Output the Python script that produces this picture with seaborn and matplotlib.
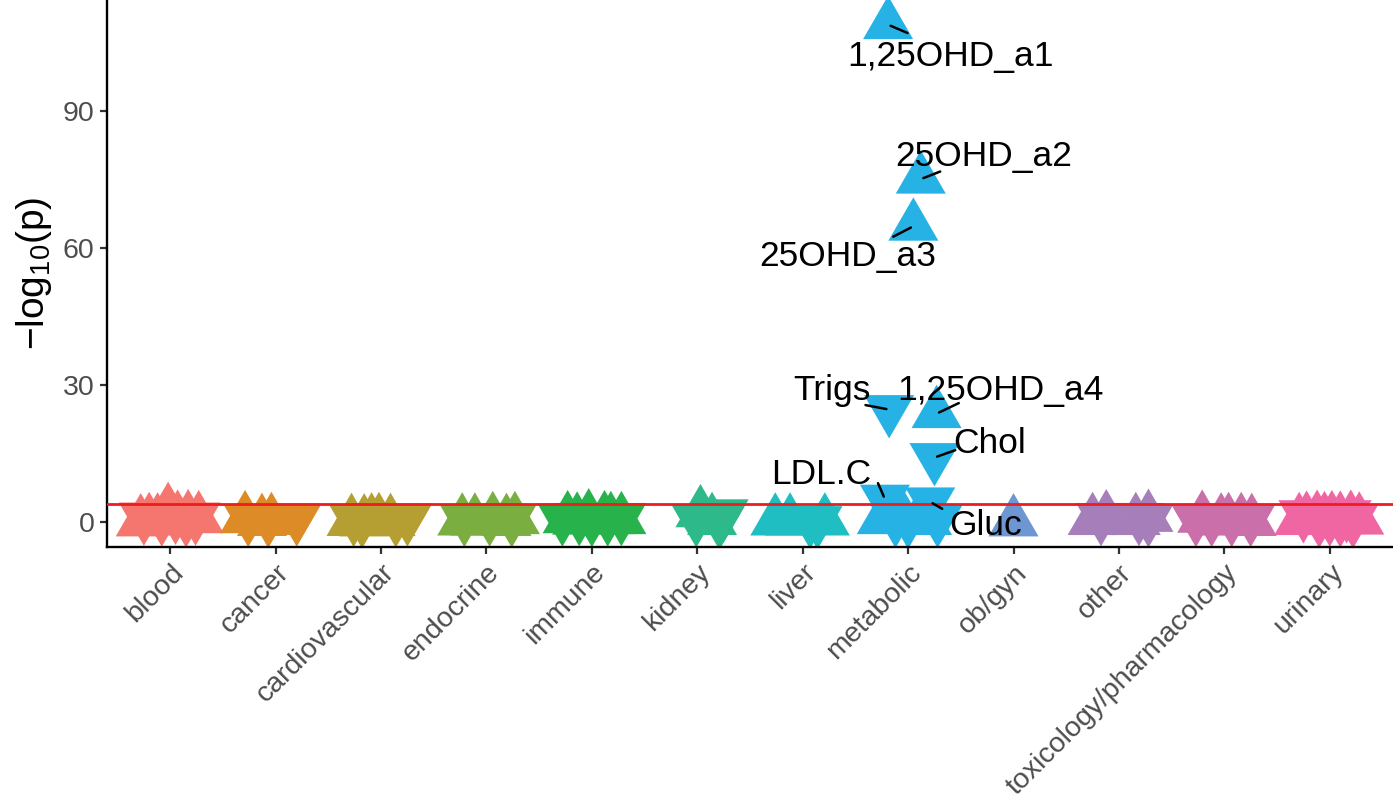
import pandas as pd
import matplotlib
matplotlib.use('Agg')
import matplotlib.pyplot as plt
import seaborn as sns

# Categories and colours
categories = ['blood', 'cancer', 'cardiovascular', 'endocrine', 'immune', 'kidney',
              'liver', 'metabolic', 'ob/gyn', 'other', 'toxicology/pharmacology', 'urinary']
colors = ['#F4766F', '#DD8B27', '#B59E32', '#7BAE41', '#27B24B', '#2EB98A',
          '#1EBEC3', '#27B2E6', '#6E96D2', '#A67FBA', '#CA6FAA', '#F066A3']

# Points per category: (direction, jitter, -log10 p)
blood = [('down', -0.25, 1.1), ('down', -0.08, 0.9), ('down', 0.05, 1.3), ('down', 0.15, 0.7), ('down', 0.24, 1.1),
         ('up', -0.28, 0.0), ('up', -0.20, 0.3), ('up', -0.12, 0.2), ('up', -0.02, 2.5), ('up', 0.07, 0.8),
         ('up', 0.17, 0.9), ('up', 0.27, 0.7)]
cancer = [('down', -0.26, 0.8), ('down', -0.07, 0.6), ('down', 0.20, 0.9),
          ('up', -0.29, 0.7), ('up', -0.13, 0.1), ('up', -0.04, 0.3)]
cardiovascular = [('down', -0.26, 0.8), ('down', -0.18, 0.5), ('down', 0.14, 0.7), ('down', 0.25, 0.9),
                  ('up', -0.28, 0.1), ('up', -0.16, 0.0), ('up', -0.09, 0.2), ('up', -0.02, 0.3), ('up', 0.09, 0.1)]
endocrine = [('down', -0.21, 0.8), ('down', 0.03, 0.9), ('down', 0.24, 0.7),
             ('up', -0.23, 0.2), ('up', -0.11, 0.2), ('up', 0.06, 0.5), ('up', 0.19, 0.1), ('up', 0.27, 0.5)]
immune = [('down', -0.28, 0.9), ('down', -0.12, 1.0), ('down', 0.0, 0.8), ('down', 0.15, 0.9), ('down', 0.28, 1.0),
          ('up', -0.23, 0.7), ('up', -0.14, 0.4), ('up', -0.03, 1.1), ('up', 0.12, 0.7), ('up', 0.18, 0.5),
          ('up', 0.28, 0.5)]
kidney = [('down', -0.01, 0.7), ('down', 0.21, 0.2), ('down', 0.25, 1.8),
          ('up', 0.03, 2.0), ('up', 0.14, 0.3)]
liver = [('down', 0.07, 0.4), ('down', 0.14, 0.3),
         ('up', -0.26, 0.2), ('up', -0.12, 0.2), ('up', 0.21, 0.2)]
metabolic = [('down', -0.12, 0.6), ('down', 0.0, 0.4), ('down', 0.28, 0.6),
             ('up', -0.25, 0.5), ('up', -0.05, 1.0), ('up', 0.10, 0.6), ('up', 0.18, 0.3)]
obgyn = [('up', 0.0, 0.0)]
other = [('down', -0.17, 1.0), ('down', 0.19, 1.0), ('down', 0.28, 0.7),
         ('up', -0.25, 0.3), ('up', -0.12, 0.9), ('up', 0.16, 0.3), ('up', 0.28, 1.0)]
toxicology = [('down', -0.27, 0.8), ('down', -0.12, 0.8), ('down', 0.07, 0.8), ('down', 0.25, 0.8),
              ('up', -0.21, 0.8), ('up', -0.03, 0.2), ('up', 0.04, 0.3), ('up', 0.16, 0.3), ('up', 0.26, 0.1)]
urinary = [('down', -0.25, 1.6), ('down', -0.10, 0.6), ('down', 0.0, 0.9), ('down', 0.10, 0.7), ('down', 0.16, 1.6),
           ('down', 0.22, 0.5),
           ('up', -0.29, 0.3), ('up', -0.22, 0.6), ('up', -0.12, 0.8), ('up', -0.05, 0.5), ('up', 0.02, 0.7),
           ('up', 0.10, 0.6), ('up', 0.20, 0.8), ('up', 0.28, 0.4)]

# Annotated metabolic phenotypes
label_names = ['1,25OHD_a1', '25OHD_a2', '25OHD_a3', 'Trigs', '1,25OHD_a4', 'Chol', 'LDL.C', 'Gluc']
label_dir = ['up', 'up', 'up', 'down', 'up', 'down', 'down', 'down']
label_jitter = [-0.19, 0.12, 0.05, -0.18, 0.27, 0.25, -0.22, 0.21]
label_logp = [108.8, 75.0, 64.7, 24.6, 23.7, 14.1, 5.0, 4.4]
# text offsets and segment ends relative to the point (points)
label_offsets = [(45, -23), (45, 16), (-47, -22), (-41, 14), (46, 17), (40, 10), (-46, 18), (40, -17)]
segment_ends = [(14, -6), (14, 5.5), (-14.5, -7.5), (-17, 3.2), (16, 7.6), (15, 5.3), (-5, 11.5), (8.6, -5)]

threshold = 4.0

groups = [blood, cancer, cardiovascular, endocrine, immune, kidney,
          liver, metabolic, obgyn, other, toxicology, urinary]

rows = []
for i, (cat, pts) in enumerate(zip(categories, groups)):
    for d, jit, lp in pts:
        rows.append({'cat': cat, 'pos': i + jit, 'logp': lp, 'dir': d})
    if cat == 'metabolic':
        for name, d, jit, lp in zip(label_names, label_dir, label_jitter, label_logp):
            rows.append({'cat': cat, 'pos': i + jit, 'logp': lp, 'dir': d})
df = pd.DataFrame(rows)

sns.set_style('ticks')
plt.rcParams['font.family'] = ['Liberation Sans', 'DejaVu Sans']
plt.rcParams['mathtext.fontset'] = 'custom'
plt.rcParams['mathtext.rm'] = 'Liberation Sans'
plt.rcParams['mathtext.it'] = 'Liberation Sans'

fig = plt.figure(figsize=(13.93, 8.07), dpi=100)
ax = fig.add_axes([0.0768, 0.3222, 0.9232, 0.6778])

sns.scatterplot(data=df, x='pos', y='logp', hue='cat', palette=dict(zip(categories, colors)),
                style='dir', markers={'up': (3, 0, 0), 'down': (3, 0, 180)},
                s=1731, linewidth=0, alpha=1, legend=False, ax=ax)

ax.axhline(threshold, color='#EE1C1C', lw=2.0, zorder=3)

# labels + short repel-style segments
met = categories.index('metabolic')
for name, jit, lp, off, seg in zip(label_names, label_jitter, label_logp, label_offsets, segment_ends):
    ax.annotate(name, xy=(met + jit, lp), xytext=off, textcoords='offset points',
                ha='center', va='center', fontsize=25.5, color='black', zorder=5)
    ax.annotate('', xy=(met + jit, lp), xytext=seg, textcoords='offset points', zorder=5,
                arrowprops=dict(arrowstyle='-', color='black', lw=1.8, shrinkA=0, shrinkB=2))

ax.set_xlim(-0.6, 11.6)
ax.set_ylim(-5.47, 114.2)
ax.set_xticks(range(len(categories)))
ax.set_xticklabels(categories, rotation=45, ha='right', va='top', rotation_mode='anchor')
ax.set_yticks([0, 30, 60, 90])
ax.tick_params(axis='both', labelsize=20.5, labelcolor='#4D4D4D', color='#333333',
               length=5, width=1.6, pad=4)
ax.set_xlabel('')
ax.set_ylabel(r'$-\mathrm{log}_{10}(\mathrm{p})$', fontsize=28, color='black', labelpad=6)

sns.despine(ax=ax)
for side in ['left', 'bottom']:
    ax.spines[side].set_color('black')
    ax.spines[side].set_linewidth(1.7)

fig.savefig('out.png', dpi=100)
